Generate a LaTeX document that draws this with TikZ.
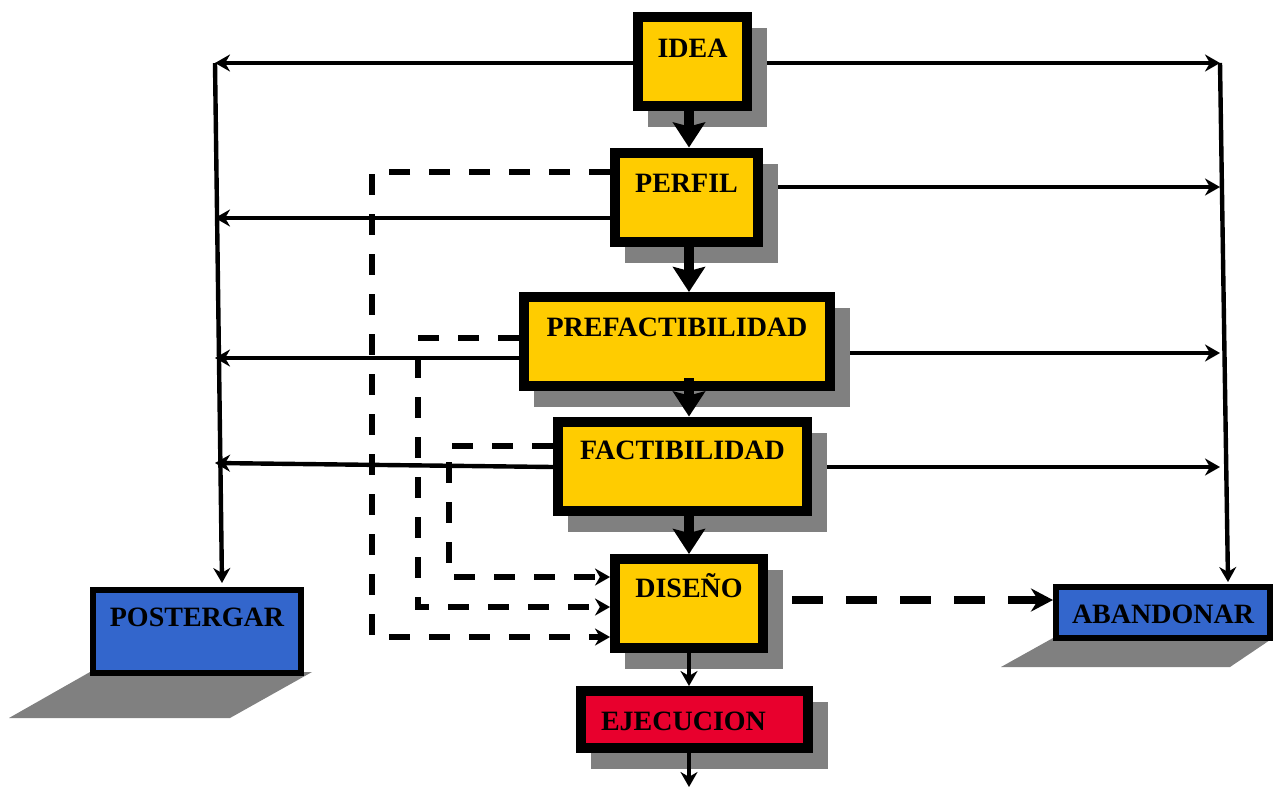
\documentclass[tikz,border=0pt]{standalone}
\usepackage{fontspec}
\setmainfont{Liberation Serif}
\usepackage{tikz}
\usetikzlibrary{shadows}
\usetikzlibrary{arrows.meta}
\usetikzlibrary{calc}
\usetikzlibrary{backgrounds}
\definecolor{gold}{RGB}{255,204,0}
\definecolor{bluebox}{RGB}{51,102,204}
\definecolor{redbox}{RGB}{232,0,45}
\definecolor{shadowgray}{RGB}{128,128,128}
\tikzstyle{stage}=[draw=black,line width=5pt,fill=gold,minimum height=44.5pt,text height=10pt,font=\bfseries\fontsize{14}{16}\selectfont,drop shadow={shadow xshift=7.5pt,shadow yshift=-8pt,opacity=1,fill=shadowgray,draw=shadowgray}]
\tikzstyle{outcome}=[draw=black,line width=3pt,fill=bluebox,text height=10pt,font=\bfseries\fontsize{14}{16}\selectfont]
\tikzstyle{edge} = [draw,line width=2.2pt,-{Stealth[length=7.5pt,width=8.5pt]}]
\tikzstyle{bigedge} = [draw,line width=5pt,-{Stealth[length=12.5pt,width=16pt,inset=2pt]}]
\tikzstyle{dashedge} = [draw,line width=3pt,dash pattern=on 10.5pt off 9.5pt,-{Stealth[length=7.5pt,width=8.5pt]}]
\tikzstyle{quitedge} = [draw,line width=4pt,dash pattern=on 15.5pt off 11.5pt,-{Stealth[length=11pt,width=11.5pt]}]

\begin{document}
\begin{tikzpicture}[x=0.5pt,y=-0.5pt]
    \useasboundingbox (0,0) rectangle (1274,787);

    % the project stages
    \foreach \name/\pos/\bw/\td/\txt in {idea/{(692.5,61)}/54.5/14/IDEA, perfil/{(686.5,197)}/71.5/15/PERFIL, prefact/{(677,341.5)}/153/15.5/PREFACTIBILIDAD, fact/{(682.5,466)}/124.5/17/FACTIBILIDAD, diseno/{(689,603.5)}/74/16.5/DISEÑO}
        \node[stage, minimum width=\bw pt, text depth=\td pt] (\name) at \pos {\txt};
    \node[stage, fill=redbox, minimum width=113.5pt, minimum height=28.5pt, text height=10.5pt, text depth=0pt, text width=93.5pt, align=left] (ejecucion) at (694.5,719.5) {EJECUCION};

    % the two ways out
    \node[outcome, minimum width=104pt, minimum height=41.5pt, text depth=15.5pt] (postergar) at (197,631.5) {POSTERGAR};
    \node[outcome, minimum width=107pt, minimum height=25.5pt, text height=10.5pt, text depth=0pt] (abandonar) at (1163,612.5) {ABANDONAR};

    \coordinate (ptop) at (215,63);
    \coordinate (atop) at (1220,63);
    \coordinate (spine) at (689,0);
    \coordinate (out) at (689,787);

    \begin{scope}[on background layer]
    % flat shadows under the blue boxes
    \fill[shadowgray] ([yshift=2pt]postergar.south west) -- ([xshift=4pt,yshift=2pt]postergar.south east) -- ++(-82,46) -- ++(-221,0) -- cycle;
    \fill[shadowgray] ([yshift=1.5pt]abandonar.south west) -- ([yshift=1.5pt]abandonar.south east) -- ++(-43,29) -- ++(-229,0) -- cycle;

    % postpone / abandon at every stage
    \draw[edge] (idea.west |- 0,63) -- (ptop);
    \draw[edge] (idea.east |- 0,63) -- (atop);
    \draw[edge] (perfil.west |- 0,218) -- (ptop |- 0,218);
    \draw[edge] (perfil.east |- 0,187) -- (atop |- 0,187);
    \draw[edge] (prefact.west |- 0,358) -- (ptop |- 0,358);
    \draw[edge] (prefact.east |- 0,353) -- (atop |- 0,353);
    \draw[edge] (fact.west |- 0,467) -- (ptop |- 0,463);
    \draw[edge] (fact.east |- 0,467) -- (atop |- 0,467);
    \draw[edge] (ptop) -- ([xshift=12.5pt,yshift=2pt]postergar.north);
    \draw[edge] (atop) -- ([xshift=32.5pt,yshift=1pt]abandonar.north);

    % shortcuts to the design
    \draw[dashedge] (perfil.west |- 0,172) -| (372,637) -- (diseno.west |- 0,637);
    \draw[dashedge] (prefact.west |- 0,338) -| (418,607) -- (diseno.west |- 0,607);
    \draw[dashedge] (fact.west |- 0,446) -| (449,577) -- (diseno.west |- 0,577);
    \end{scope}

    % main line
    \draw[bigedge] (spine |- idea.south) -- (spine |- perfil.north);
    \draw[bigedge] (spine |- perfil.south) -- (spine |- prefact.north);
    \draw[bigedge] (spine |- prefact.south) ++(0,-13) -- (spine |- fact.north);
    \draw[bigedge] (spine |- fact.south) -- (spine |- diseno.north);
    \draw[edge] (spine |- diseno.south) -- (spine |- ejecucion.north);
    \draw[edge] (spine |- ejecucion.south) -- (out);

    \coordinate (dq) at ([xshift=12pt,yshift=1.75pt]diseno.east);
    \draw[quitedge] (dq) -- (dq -| abandonar.west);
\end{tikzpicture}
\end{document}
